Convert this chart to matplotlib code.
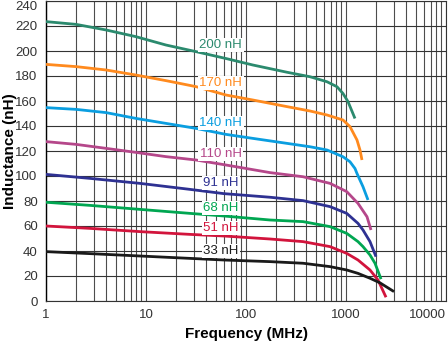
import numpy as np
from matplotlib import pyplot as plt
from matplotlib.ticker import LogLocator, FixedLocator, NullFormatter

plt.rcParams['font.family'] = ['Liberation Sans', 'DejaVu Sans']

# values: frequency (MHz) / inductance (nH)
f_200 = [1, 2, 4, 7.9, 15.8, 31.6, 63, 117, 257, 437, 646, 813, 933, 1047, 1230]
l_200 = [223.5, 221.3, 216.8, 211.5, 204.8, 199.5, 194, 188.8, 183, 179.4, 175.4, 171.4, 166, 159.5, 146]
f_170 = [1, 2, 4, 7.9, 15.8, 31.6, 63, 117, 257, 437, 646, 933, 1096, 1288, 1380, 1445]
l_170 = [189.3, 187.5, 184.8, 180.8, 176.3, 171.5, 164.8, 160.8, 155.5, 152, 148.8, 144.8, 139.5, 128.8, 120.8, 112.8]
f_140 = [1, 2, 4, 7.9, 15.8, 31.6, 63, 117, 257, 437, 646, 933, 1096, 1230, 1288, 1479, 1660]
l_140 = [154.7, 153.3, 150.7, 146.1, 142.1, 138.1, 133.3, 130.1, 126.1, 123.4, 120.8, 115.4, 111.4, 106, 102, 91.4, 80.8]
f_110 = [1, 2, 4, 7.9, 15.8, 31.6, 63, 174, 372, 692, 1017, 1318, 1622, 1778]
l_110 = [127.5, 125.3, 122.1, 118.9, 115.5, 112.8, 108.8, 102.7, 99.4, 94.1, 87.5, 78.1, 67.4, 56.8]
f_91 = [1, 2.75, 8.7, 27.5, 60, 174, 372, 692, 1017, 1318, 1479, 1738, 1995]
l_91 = [101.3, 98.1, 94.1, 89.3, 85.9, 83, 80.3, 75.5, 70.1, 62.1, 56.8, 47.5, 35.5]
f_68 = [1, 2.75, 8.7, 27.5, 60, 174, 372, 692, 1017, 1318, 1479, 1738, 1950, 2240]
l_68 = [79, 76.5, 73.3, 70.1, 68, 64.8, 63.5, 59.5, 54.1, 47.5, 43.5, 36.8, 30.2, 17.5]
f_51 = [1, 2.75, 8.7, 27.5, 60, 174, 372, 692, 1017, 1318, 1738, 2089, 2512]
l_51 = [60, 58.1, 55.5, 53.3, 52, 49.6, 47.5, 43.5, 38.1, 32.8, 24.8, 16.8, 3]
f_33 = [1, 2.75, 8.7, 27.5, 60, 174, 372, 692, 1017, 1318, 1738, 2190, 3020]
l_33 = [39.5, 37.9, 36, 34.1, 32.8, 31.5, 30.2, 27.5, 24.8, 22.1, 18.2, 14.5, 7.5]

names = ["200 nH", "170 nH", "140 nH", "110 nH", "91 nH", "68 nH", "51 nH", "33 nH"]
freqs = [f_200, f_170, f_140, f_110, f_91, f_68, f_51, f_33]
values = [l_200, l_170, l_140, l_110, l_91, l_68, l_51, l_33]
label_y = [204.8, 174.4, 142.4, 117.6, 94.4, 74.4, 58.4, 40]
colors = ["#2b8a6e", "#ff8a1e", "#0a9ee0", "#b5478a", "#2e3192", "#00a651", "#d2143c", "#1a1a1a"]

fig = plt.figure(figsize=(4.48, 3.42), dpi=100)
ax = fig.add_axes([46 / 448, 41 / 342, 400 / 448, 300 / 342])

for f, l, c in zip(freqs, values, colors):
    ax.plot(f, l, color=c, lw=2.0, zorder=3, solid_capstyle="butt", solid_joinstyle="round")

for name, y, c in zip(names, label_y, colors):
    ax.text(56, y, name, color=c, fontsize=9.5, ha="center", va="center", zorder=4,
            bbox=dict(facecolor="white", edgecolor="none", pad=1.0))

ax.set_xscale("log")
ax.set_xlim(1, 10000)
ax.set_ylim(0, 240)
ax.xaxis.set_major_locator(FixedLocator([1, 10, 100, 1000, 10000]))
ax.xaxis.set_minor_locator(LogLocator(base=10, subs=np.arange(2, 10)))
ax.xaxis.set_minor_formatter(NullFormatter())
ax.set_xticklabels(["1", "10", "100", "1000", "10000"])
ax.set_yticks(np.arange(0, 241, 20))

ax.grid(True, which="both", axis="x", color="0.3", lw=0.8, zorder=1)
ax.grid(True, which="major", axis="y", color="0.2", lw=0.8, zorder=1)
ax.set_axisbelow(True)

ax.tick_params(which="both", length=0, labelsize=9.5, labelcolor="#333333")
ax.tick_params(axis="x", pad=6)
ax.tick_params(axis="y", pad=6)
ax.get_xticklabels()[-1].set_ha("right")
ax.get_yticklabels()[-1].set_va("top")

for s in ax.spines.values():
    s.set_color("0.2")
    s.set_linewidth(0.8)
ax.spines["left"].set_color("black")
ax.spines["left"].set_linewidth(1.0)

ax.set_xlabel("Frequency (MHz)", fontsize=11, fontweight="bold", labelpad=4)
ax.set_ylabel("Inductance (nH)", fontsize=11, fontweight="bold")
ax.yaxis.set_label_coords(-0.073, 0.5)

plt.savefig("out.png", dpi=100)
